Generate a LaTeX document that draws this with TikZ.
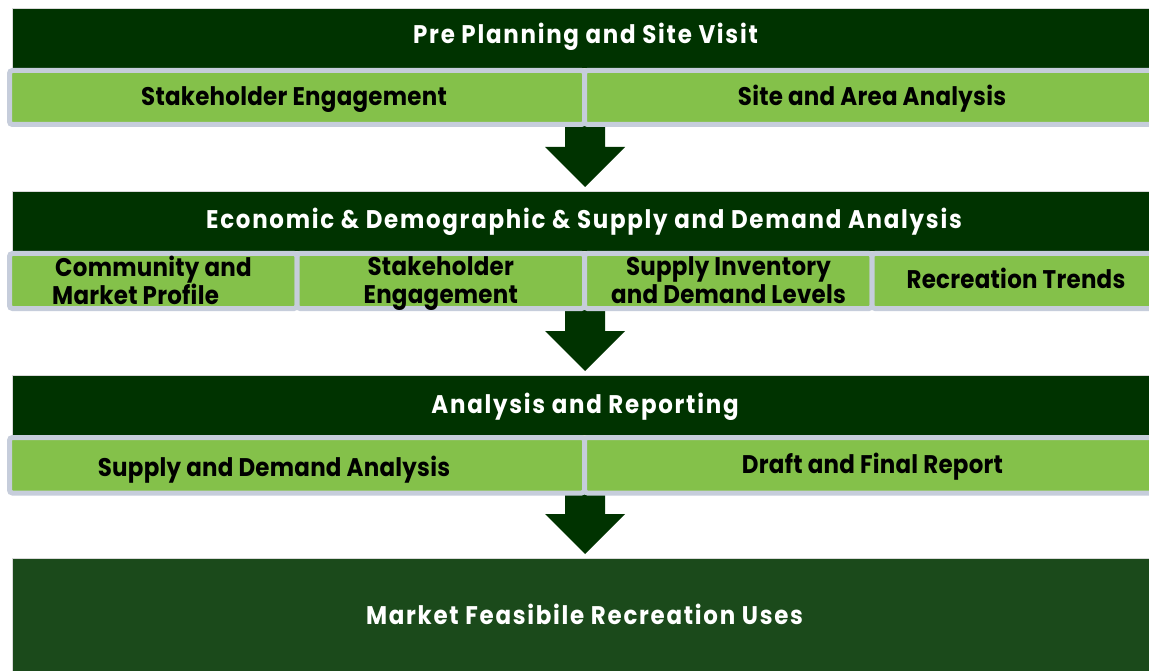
\documentclass[tikz,border=0pt]{standalone}
\usepackage{fontspec}
\usetikzlibrary{calc}
\newfontfamily\hf{Poppins}[FakeStretch=0.9, LetterSpace=6.8]
\newfontfamily\cf{Poppins}[FakeStretch=0.9, LetterSpace=1]
\definecolor{hdrgreen}{HTML}{003300}
\definecolor{botgreen}{HTML}{1B4A1B}
\definecolor{litgreen}{HTML}{84C14A}
\definecolor{bordergray}{HTML}{C6CDDB}
\begin{document}
\begin{tikzpicture}[x=1pt,y=-1pt,
  hdrbox/.style={rectangle, fill=hdrgreen, draw=black!15, line width=0.6pt, inner sep=0pt, minimum width=1146pt, minimum height=60pt},
  botbox/.style={rectangle, fill=botgreen, draw=black!15, line width=0.6pt, inner sep=0pt, minimum width=1146pt, minimum height=120pt},
  cell/.style={rectangle, fill=litgreen, draw=bordergray, line width=5pt, rounded corners=3pt, inner sep=0pt},
  htxt/.style={text=white, inner sep=0pt, anchor=base, font=\hf\bfseries\fontsize{25.5}{28}\selectfont},
  ctxt/.style={text=black, inner sep=0pt, anchor=base, align=center, font=\cf\bfseries\fontsize{25.5}{28}\selectfont},
  blk/.style={fill=hdrgreen}
]
\useasboundingbox (0,0) rectangle (1149,671);
\clip (0,0) rectangle (1149,671);
\fill[white] (0,0) rectangle (1149,671);

% arrows (drawn first, under the rows)
\coordinate (a1s) at (585,120); \coordinate (a1t) at (585,187);
\coordinate (a2s) at (585,303); \coordinate (a2t) at (585,371);
\coordinate (a3s) at (585,487); \coordinate (a3t) at (585,554);
\foreach \s/\t in {a1s/a1t,a2s/a2t,a3s/a3t}{
  \fill[blk] (\s) ++(-20,0) -- ++(40,0) |- ($(\t)+(20,-40)$) -- ++(20,0) -- (\t) -- ($(\t)+(-40,-40)$) -- ++(20,0) -- cycle;
}

% header 1
\node[hdrbox] (h1) at (585,38) {};
\node[htxt] (h1t) at (585.5,44) {Pre Planning and Site Visit};
\node[cell, minimum width=575pt, minimum height=54pt] (c11) at (297,97.5) {};
\node[cell, minimum width=575pt, minimum height=54pt] (c12) at (872,97.5) {};
\node[ctxt] (c11t) at (294,106) {Stakeholder Engagement};
\node[ctxt] (c12t) at (872,105.5) {Site and Area Analysis};

% header 2
\node[hdrbox] (h2) at (585,221) {};
\node[htxt] (h2t) at (584,229) {Economic \& Demographic \& Supply and Demand Analysis};
\foreach \n/\x in {1/153.25,2/440.75,3/728.25,4/1015.75}{
  \node[cell, minimum width=287.5pt, minimum height=55pt] (c2\n) at (\x,281) {};
}
\node[ctxt, align=left, anchor=base west] (c21t) at (52,304) {\hspace*{3pt}Community and\\Market Profile};
\node[ctxt] (c22t) at (440.75,303) {Stakeholder\\Engagement};
\node[ctxt] (c23t) at (728.5,303) {Supply Inventory\\and Demand Levels};
\node[ctxt] (c24t) at (1016,288) {Recreation Trends};

% header 3
\node[hdrbox] (h3) at (585,405) {};
\node[htxt] (h3t) at (585,413) {Analysis and Reporting};
\node[cell, minimum width=575pt, minimum height=55.5pt] (c31) at (297,465.25) {};
\node[cell, minimum width=575pt, minimum height=55.5pt] (c32) at (872,465.25) {};
\node[ctxt] (c31t) at (274,476) {Supply and Demand Analysis};
\node[ctxt] (c32t) at (872.5,473) {Draft and Final Report};

% bottom
\node[botbox] (b) at (585,618) {};
\node[htxt] (bt) at (584.5,624) {Market Feasibile Recreation Uses};
\end{tikzpicture}
\end{document}
